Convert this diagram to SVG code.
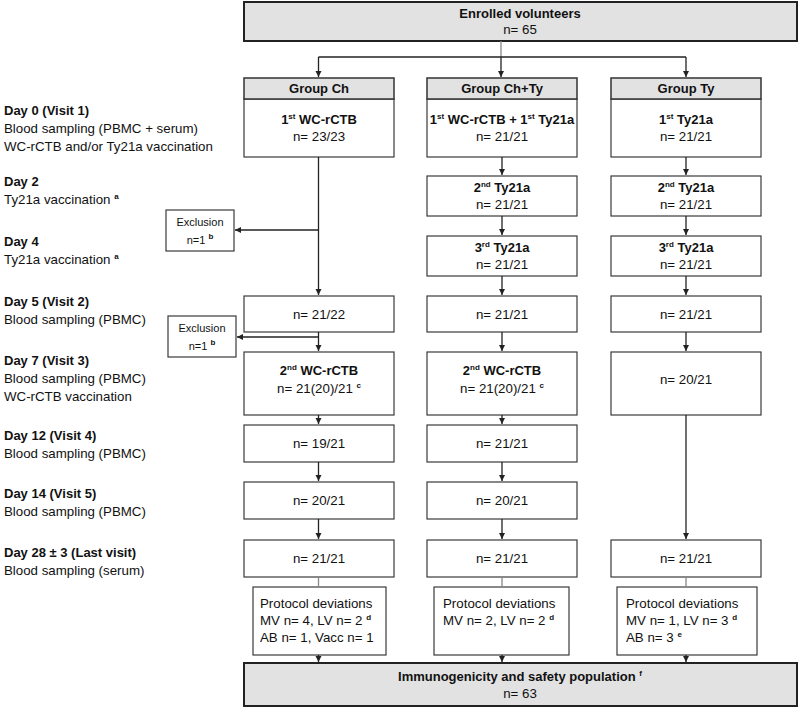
<svg xmlns="http://www.w3.org/2000/svg" width="800" height="712" viewBox="0 0 800 712">
<style>
.t{font-family:"Liberation Sans",Arial,sans-serif;font-size:13.3px;fill:#111}
.b{font-weight:bold;font-size:13px}
.c{text-anchor:middle}
.box{fill:#fff;stroke:#3a3a3a;stroke-width:1.2}
.gbox{fill:#e2e2e2;stroke:#222;stroke-width:2}
.hdr{fill:#e2e2e2;stroke:#333;stroke-width:1.5}
.ln{stroke:#222;stroke-width:1.3;fill:none}
.lg{stroke:#888;stroke-width:1.3;fill:none}
.ar{marker-end:url(#ah)}
.sup{font-size:8px}
.ex{font-size:11px}
</style>
<defs>
<marker id="ah" markerUnits="userSpaceOnUse" markerWidth="7" markerHeight="7" refX="6" refY="3" orient="auto">
<path d="M0,0 L6,3 L0,6 z" fill="#222"/>
</marker>
</defs>

<g id="labels" class="t">
<text x="4" y="115" class="b">Day 0 (Visit 1)</text>
<text x="4" y="133">Blood sampling (PBMC + serum)</text>
<text x="4" y="151">WC-rCTB and/or Ty21a vaccination</text>
<text x="4" y="186" class="b">Day 2</text>
<text x="4" y="204">Ty21a vaccination <tspan class="sup b" dy="-5">a</tspan></text>
<text x="4" y="246" class="b">Day 4</text>
<text x="4" y="264">Ty21a vaccination <tspan class="sup b" dy="-5">a</tspan></text>
<text x="4" y="306" class="b">Day 5 (Visit 2)</text>
<text x="4" y="324">Blood sampling (PBMC)</text>
<text x="4" y="365" class="b">Day 7 (Visit 3)</text>
<text x="4" y="383">Blood sampling (PBMC)</text>
<text x="4" y="401">WC-rCTB vaccination</text>
<text x="4" y="440" class="b">Day 12 (Visit 4)</text>
<text x="4" y="458">Blood sampling (PBMC)</text>
<text x="4" y="498" class="b">Day 14 (Visit 5)</text>
<text x="4" y="516">Blood sampling (PBMC)</text>
<text x="4" y="557" class="b">Day 28 ± 3 (Last visit)</text>
<text x="4" y="575">Blood sampling (serum)</text>
</g>

<g id="enrolled">
<rect class="gbox" x="244" y="2" width="553" height="39"/>
<text class="t b c" x="520" y="18">Enrolled volunteers</text>
<text class="t c" x="520" y="34">n= 65</text>
</g>

<g id="groupCh">
<rect class="box" x="244" y="99" width="150" height="58"/>
<rect class="hdr" x="244" y="78" width="150" height="21"/>
<text class="t b c" x="319" y="93">Group Ch</text>
<text class="t b c" x="319" y="124">1<tspan class="sup" dy="-5">st</tspan><tspan dy="5"> WC-rCTB</tspan></text>
<text class="t c" x="319" y="141">n= 23/23</text>
</g>
<g id="groupChTy">
<rect class="box" x="427" y="99" width="150" height="58"/>
<rect class="hdr" x="427" y="78" width="150" height="21"/>
<text class="t b c" x="502" y="93">Group Ch+Ty</text>
<text class="t b c" x="502" y="124">1<tspan class="sup" dy="-5">st</tspan><tspan dy="5"> WC-rCTB + 1</tspan><tspan class="sup" dy="-5">st</tspan><tspan dy="5"> Ty21a</tspan></text>
<text class="t c" x="502" y="141">n= 21/21</text>
</g>
<g id="groupTy">
<rect class="box" x="611" y="99" width="150" height="58"/>
<rect class="hdr" x="611" y="78" width="150" height="21"/>
<text class="t b c" x="686" y="93">Group Ty</text>
<text class="t b c" x="686" y="124">1<tspan class="sup" dy="-5">st</tspan><tspan dy="5"> Ty21a</tspan></text>
<text class="t c" x="686" y="141">n= 21/21</text>
</g>

<g id="chty-day2">
<rect class="box" x="427" y="176" width="150" height="40"/>
<text class="t b c" x="502" y="192">2<tspan class="sup" dy="-5">nd</tspan><tspan dy="5"> Ty21a</tspan></text>
<text class="t c" x="502" y="209">n= 21/21</text>
</g>
<g id="ty-day2">
<rect class="box" x="611" y="176" width="150" height="40"/>
<text class="t b c" x="686" y="192">2<tspan class="sup" dy="-5">nd</tspan><tspan dy="5"> Ty21a</tspan></text>
<text class="t c" x="686" y="209">n= 21/21</text>
</g>
<g id="chty-day4">
<rect class="box" x="427" y="236" width="150" height="40"/>
<text class="t b c" x="502" y="252">3<tspan class="sup" dy="-5">rd</tspan><tspan dy="5"> Ty21a</tspan></text>
<text class="t c" x="502" y="269">n= 21/21</text>
</g>
<g id="ty-day4">
<rect class="box" x="611" y="236" width="150" height="40"/>
<text class="t b c" x="686" y="252">3<tspan class="sup" dy="-5">rd</tspan><tspan dy="5"> Ty21a</tspan></text>
<text class="t c" x="686" y="269">n= 21/21</text>
</g>

<g id="excl1">
<rect class="box" x="166" y="210" width="68" height="41"/>
<text class="t c ex" x="200" y="226">Exclusion</text>
<text class="t c ex" x="200" y="244">n=1 <tspan class="sup b" dy="-5">b</tspan></text>
</g>

<g id="ch-day5">
<rect class="box" x="244" y="296" width="150" height="36"/>
<text class="t c" x="319" y="318.5">n= 21/22</text>
</g>
<g id="chty-day5">
<rect class="box" x="427" y="296" width="150" height="36"/>
<text class="t c" x="502" y="318.5">n= 21/21</text>
</g>
<g id="ty-day5">
<rect class="box" x="611" y="296" width="150" height="36"/>
<text class="t c" x="686" y="318.5">n= 21/21</text>
</g>

<g id="excl2">
<rect class="box" x="168" y="316" width="68" height="41"/>
<text class="t c ex" x="202" y="332">Exclusion</text>
<text class="t c ex" x="202" y="350">n=1 <tspan class="sup b" dy="-5">b</tspan></text>
</g>

<g id="ch-day7">
<rect class="box" x="244" y="352" width="150" height="63"/>
<text class="t b c" x="319" y="375">2<tspan class="sup" dy="-5">nd</tspan><tspan dy="5"> WC-rCTB</tspan></text>
<text class="t c" x="319" y="393">n= 21(20)/21 <tspan class="sup b" dy="-5">c</tspan></text>
</g>
<g id="chty-day7">
<rect class="box" x="427" y="352" width="150" height="63"/>
<text class="t b c" x="502" y="375">2<tspan class="sup" dy="-5">nd</tspan><tspan dy="5"> WC-rCTB</tspan></text>
<text class="t c" x="502" y="393">n= 21(20)/21 <tspan class="sup b" dy="-5">c</tspan></text>
</g>
<g id="ty-day7">
<rect class="box" x="611" y="352" width="150" height="63"/>
<text class="t c" x="686" y="384">n= 20/21</text>
</g>

<g id="ch-day12">
<rect class="box" x="244" y="425" width="150" height="37"/>
<text class="t c" x="319" y="448">n= 19/21</text>
</g>
<g id="chty-day12">
<rect class="box" x="427" y="425" width="150" height="37"/>
<text class="t c" x="502" y="448">n= 21/21</text>
</g>

<g id="ch-day14">
<rect class="box" x="244" y="482" width="150" height="37"/>
<text class="t c" x="319" y="505">n= 20/21</text>
</g>
<g id="chty-day14">
<rect class="box" x="427" y="482" width="150" height="37"/>
<text class="t c" x="502" y="505">n= 20/21</text>
</g>

<g id="ch-day28">
<rect class="box" x="244" y="540" width="150" height="37"/>
<text class="t c" x="319" y="563">n= 21/21</text>
</g>
<g id="chty-day28">
<rect class="box" x="427" y="540" width="150" height="37"/>
<text class="t c" x="502" y="563">n= 21/21</text>
</g>
<g id="ty-day28">
<rect class="box" x="611" y="540" width="150" height="37"/>
<text class="t c" x="686" y="563">n= 21/21</text>
</g>

<g id="ch-prot">
<rect class="box" x="253" y="587" width="133" height="68"/>
<text class="t" x="260" y="608">Protocol deviations</text>
<text class="t" x="260" y="625">MV n= 4, LV n= 2 <tspan class="sup b" dy="-5">d</tspan></text>
<text class="t" x="260" y="642">AB n= 1, Vacc n= 1</text>
</g>
<g id="chty-prot">
<rect class="box" x="434" y="587" width="135" height="68"/>
<text class="t" x="443" y="608">Protocol deviations</text>
<text class="t" x="443" y="625">MV n= 2, LV n= 2 <tspan class="sup b" dy="-5">d</tspan></text>
</g>
<g id="ty-prot">
<rect class="box" x="617" y="587" width="140" height="68"/>
<text class="t" x="626" y="608">Protocol deviations</text>
<text class="t" x="626" y="625">MV n= 1, LV n= 3 <tspan class="sup b" dy="-5">d</tspan></text>
<text class="t" x="626" y="642">AB n= 3 <tspan class="sup b" dy="-5">e</tspan></text>
</g>

<g id="population">
<rect class="gbox" x="244" y="663" width="553" height="43"/>
<text class="t b c" x="520" y="681">Immunogenicity and safety population <tspan class="sup" dy="-5">f</tspan></text>
<text class="t c" x="520" y="698">n= 63</text>
</g>

<g id="connectors">
<path class="lg" d="M501,41 V57"/>
<path class="ln" d="M318.5,57 H686"/>
<path class="ln ar" d="M318.5,57 V77"/>
<path class="ln ar" d="M501,57 V77"/>
<path class="ln ar" d="M686,57 V77"/>
<path class="ln ar" d="M318.5,157 V295"/>
<path class="ln ar" d="M318.5,230 H235"/>
<path class="ln ar" d="M318.5,332 V351"/>
<path class="ln ar" d="M318.5,337 H237"/>
<path class="ln ar" d="M318.5,415 V424"/>
<path class="ln ar" d="M318.5,462 V481"/>
<path class="ln ar" d="M318.5,519 V539"/>
<path class="lg" d="M318.5,577 V587"/>
<path class="ln ar" d="M318.5,655 V662"/>
<path class="ln ar" d="M502,157 V175"/>
<path class="ln ar" d="M502,216 V235"/>
<path class="ln ar" d="M502,276 V295"/>
<path class="ln ar" d="M502,332 V351"/>
<path class="ln ar" d="M502,415 V424"/>
<path class="ln ar" d="M502,462 V481"/>
<path class="ln ar" d="M502,519 V539"/>
<path class="lg" d="M502,577 V587"/>
<path class="ln ar" d="M502,655 V662"/>
<path class="ln ar" d="M686,157 V175"/>
<path class="ln ar" d="M686,216 V235"/>
<path class="ln ar" d="M686,276 V295"/>
<path class="ln ar" d="M686,332 V351"/>
<path class="ln ar" d="M686,415 V539"/>
<path class="lg" d="M686,577 V587"/>
<path class="ln ar" d="M686,655 V662"/>
</g>
</svg>
